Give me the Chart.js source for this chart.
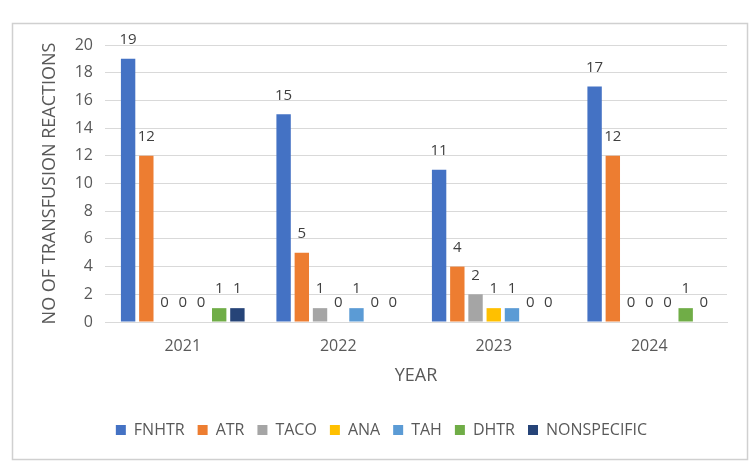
<!DOCTYPE html>
<html>
<head>
<meta charset="utf-8">
<script src="https://cdn.jsdelivr.net/npm/chart.js@4"></script>
<style>
  html, body { margin: 0; padding: 0; background: #fff; }
  #wrap { width: 750px; height: 463px; }
</style>
</head>
<body>
<div id="wrap"><canvas id="reactionsChart" width="750" height="463"></canvas></div>
<script>
const years = ['2021', '2022', '2023', '2024'];
const seriesNames = ['FNHTR', 'ATR', 'TACO', 'ANA', 'TAH', 'DHTR', 'NONSPECIFIC'];
const fnhtr = [19, 15, 11, 17];
const atr = [12, 5, 4, 12];
const taco = [0, 1, 2, 0];
const ana = [0, 0, 1, 0];
const tah = [0, 1, 1, 0];
const dhtr = [1, 0, 0, 1];
const nonspecific = [1, 0, 0, 0];
const yTicks = [0, 2, 4, 6, 8, 10, 12, 14, 16, 18, 20];

const seriesValues = [fnhtr, atr, taco, ana, tah, dhtr, nonspecific];
const colors = ['#4472C4', '#ED7D31', '#A5A5A5', '#FFC000', '#5B9BD5', '#70AD47', '#264478'];
const font = '"Open Sans", sans-serif';

// border round the whole chart, like the office frame
const frame = {
    id: 'frame',
    afterDraw(chart) {
        const ctx = chart.ctx;
        ctx.save();
        ctx.strokeStyle = '#d0d0d0';
        ctx.lineWidth = 1.5;
        ctx.strokeRect(12.5, 23.5, 735, 436);
        ctx.restore();
    }
};

// value over each bar
const barValues = {
    id: 'barValues',
    afterDatasetsDraw(chart) {
        const ctx = chart.ctx;
        ctx.save();
        ctx.font = '15px ' + font;
        ctx.fillStyle = '#404040';
        ctx.textAlign = 'center';
        ctx.textBaseline = 'middle';
        chart.data.datasets.forEach((ds, i) => {
            chart.getDatasetMeta(i).data.forEach((bar, j) => {
                ctx.fillText(String(ds.data[j]), bar.x, bar.y - 19);
            });
        });
        ctx.restore();
    }
};

const ctx = document.getElementById('reactionsChart').getContext('2d');
const chart = new Chart(ctx, {
    type: 'bar',
    data: {
        labels: years,
        datasets: seriesNames.map((name, i) => ({
            label: name,
            data: seriesValues[i],
            backgroundColor: colors[i],
            categoryPercentage: 0.82,
            barPercentage: 0.79
        }))
    },
    options: {
        responsive: false,
        animation: false,
        layout: { padding: { left: 36, right: 23, top: 45, bottom: 15 } },
        plugins: {
            legend: {
                position: 'bottom',
                labels: {
                    boxWidth: 10,
                    boxHeight: 10,
                    padding: 13,
                    color: '#595959',
                    font: { family: font, size: 16 }
                }
            },
            tooltip: { enabled: false }
        },
        scales: {
            x: {
                grid: { display: false, drawTicks: false },
                border: { color: '#d9d9d9' },
                ticks: { color: '#595959', padding: 15, font: { family: font, size: 16 } },
                title: {
                    display: true,
                    text: 'YEAR',
                    color: '#595959',
                    font: { family: font, size: 18 },
                    padding: { top: 10, bottom: 22 }
                },
                afterFit(axis) { axis.height = 87; }
            },
            y: {
                min: 0,
                max: 20,
                afterBuildTicks(axis) {
                    axis.ticks = yTicks.map(v => ({ value: v }));
                },
                grid: { color: '#d9d9d9', drawTicks: false },
                border: { display: false },
                ticks: { color: '#595959', padding: 12, font: { family: font, size: 16 } },
                title: {
                    display: true,
                    text: 'NO OF TRANSFUSION REACTIONS',
                    color: '#595959',
                    font: { family: font, size: 18 },
                    padding: { top: 3, bottom: 4 }
                },
                afterFit(axis) { axis.width = 69; }
            }
        }
    },
    plugins: [frame, barValues]
});
</script>
</body>
</html>
